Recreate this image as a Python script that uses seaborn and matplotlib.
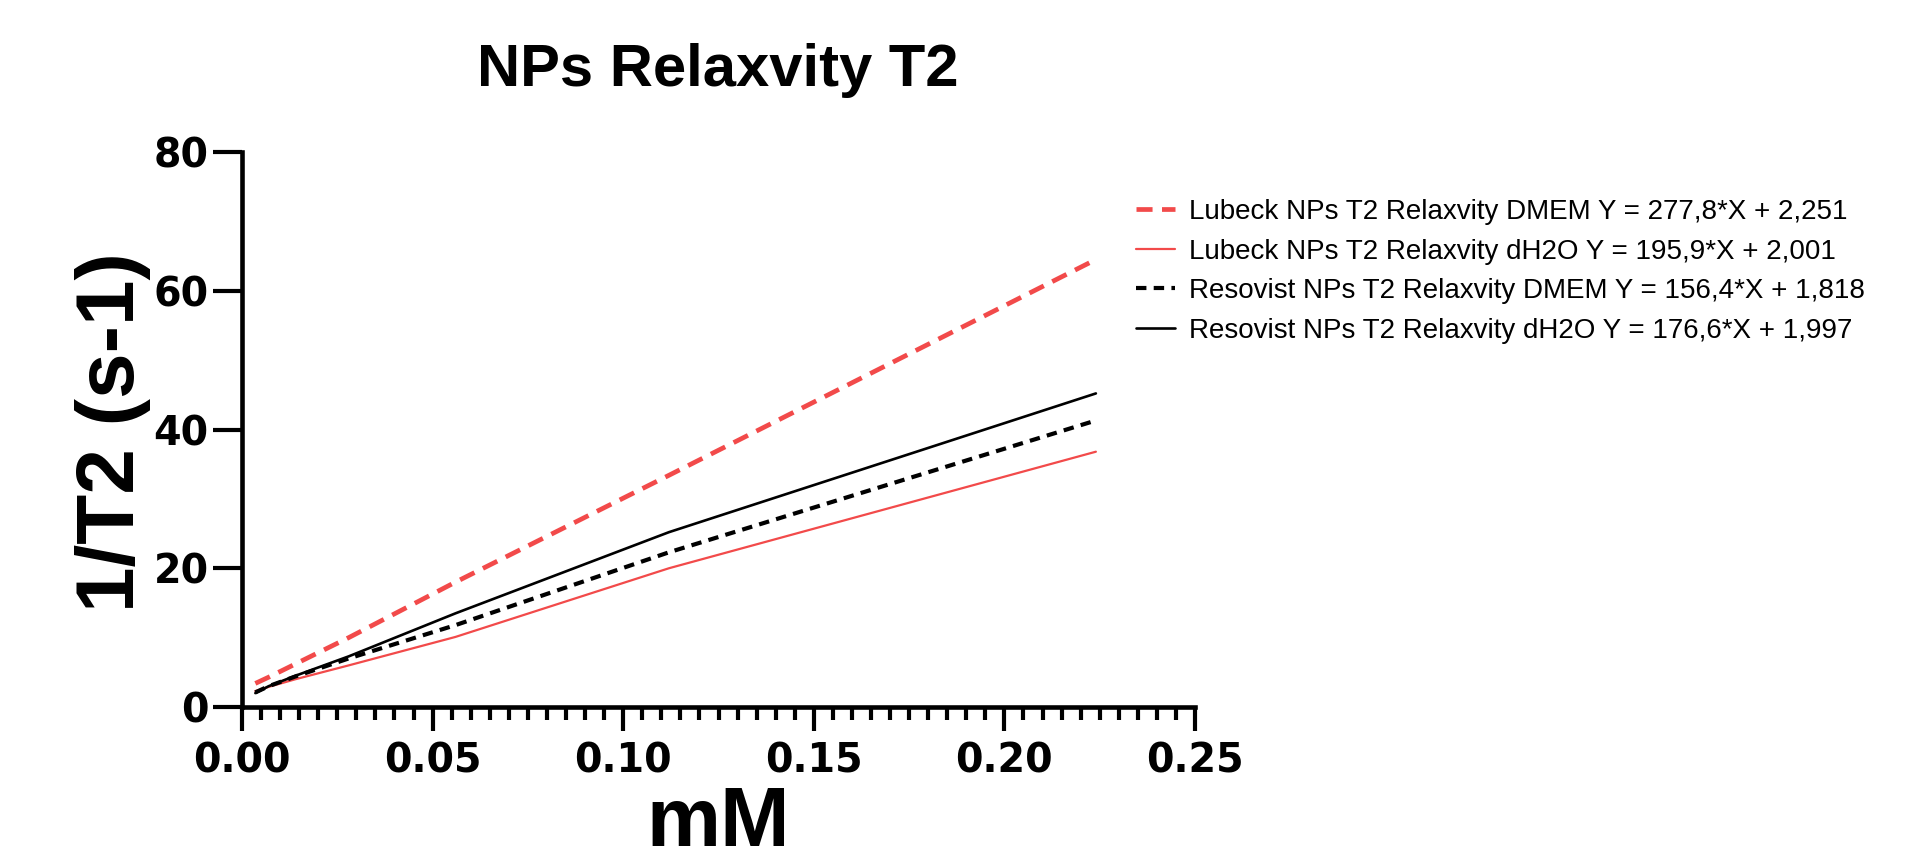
import matplotlib
matplotlib.use("Agg")
import matplotlib.pyplot as plt
import numpy as np
import pandas as pd
import seaborn as sns
from matplotlib.ticker import MultipleLocator, FormatStrFormatter

# Data (mM vs 1/T2)
conc = [0.0035, 0.007, 0.014, 0.028, 0.056, 0.112, 0.224]
lubeck_dmem = [3.4, 4.3, 6.2, 10.0, 18.0, 33.4, 64.5]
lubeck_h2o = [2.3, 2.9, 4.0, 6.0, 10.1, 20.0, 36.8]
resovist_dmem = [2.1, 3.0, 4.4, 7.0, 11.8, 22.3, 41.3]
resovist_h2o = [2.0, 3.0, 4.5, 7.3, 13.5, 25.2, 45.2]

labels = ["Lubeck NPs T2 Relaxvity DMEM Y = 277,8*X + 2,251",
          "Lubeck NPs T2 Relaxvity dH2O Y = 195,9*X + 2,001",
          "Resovist NPs T2 Relaxvity DMEM Y = 156,4*X + 1,818",
          "Resovist NPs T2 Relaxvity dH2O Y = 176,6*X + 1,997"]

red = "#F24A4A"

sns.set_style("ticks")
plt.rcParams['font.family'] = ['Liberation Sans', 'DejaVu Sans']
plt.rcParams['text.color'] = 'black'

fig = plt.figure(figsize=(19.09, 8.64), dpi=100)
ax = fig.add_axes([242/1909, 1-707/864, 953/1909, 555/864])

sns.lineplot(x=conc, y=lubeck_dmem, ax=ax, color=red, lw=3.4,
             ls=(0, (3.4, 2.0)), label=labels[0])
sns.lineplot(x=conc, y=lubeck_h2o, ax=ax, color=red, lw=1.6, label=labels[1])
sns.lineplot(x=conc, y=resovist_dmem, ax=ax, color="black", lw=3.0,
             ls=(0, (2.5, 1.75)), label=labels[2])
sns.lineplot(x=conc, y=resovist_h2o, ax=ax, color="black", lw=1.9, label=labels[3])

ax.set_xlim(0, 0.25)
ax.set_ylim(0, 80)
ax.xaxis.set_major_locator(MultipleLocator(0.05))
ax.xaxis.set_minor_locator(MultipleLocator(0.005))
ax.yaxis.set_major_locator(MultipleLocator(20))
ax.xaxis.set_major_formatter(FormatStrFormatter("%.2f"))

sns.despine(ax=ax)
for s in ["left", "bottom"]:
	ax.spines[s].set_linewidth(3.3)
	ax.spines[s].set_color("black")

ax.tick_params(axis="y", which="major", length=21, width=3, pad=3,
               labelsize=28.5, colors="black")
ax.tick_params(axis="x", which="major", length=17, width=3, pad=8,
               labelsize=28.5, colors="black")
ax.tick_params(axis="x", which="minor", length=9, width=3, colors="black")
for lab in ax.get_xticklabels() + ax.get_yticklabels():
	lab.set_fontfamily("DejaVu Sans")
	lab.set_fontweight("bold")

ax.set_xlabel("")
ax.set_ylabel("")

fig.text(718/1909, 1-71/864, "NPs Relaxvity T2", ha="center", va="center",
         fontsize=43, fontweight="bold")
fig.text(113/1909, 1-432/864, "1/T2 (s-1)", ha="center", va="center",
         rotation=90, fontsize=59, fontweight="bold")
fig.text(718/1909, 1/864, "mM", ha="center", va="bottom",
         fontsize=60, fontweight="bold")

ax.legend(loc="upper left", bbox_to_anchor=(1136/1909, 1-199/864),
          bbox_transform=fig.transFigure, frameon=False, fontsize=20,
          handlelength=1.4, handletextpad=0.5, labelspacing=0.49,
          borderpad=0, borderaxespad=0, labelcolor="black")

fig.savefig("out.png", dpi=100)
